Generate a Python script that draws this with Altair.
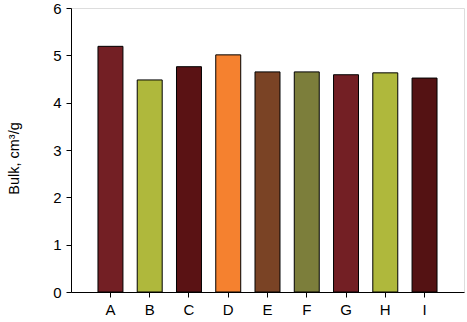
import altair as alt
import pandas as pd

categories = ["A", "B", "C", "D", "E", "F", "G", "H", "I"]
values = [5.19, 4.48, 4.76, 5.01, 4.65, 4.65, 4.59, 4.63, 4.52]
colors = ["#731F24", "#AFB83C", "#5A1214", "#F5812F", "#7A4325",
          "#7C7E3B", "#731F24", "#AFB83C", "#541213"]

df = pd.DataFrame({"cat": categories, "val": values, "col": colors})

font = "Liberation Sans"

chart = alt.Chart(df).mark_bar(stroke="black", strokeWidth=1).encode(
    x=alt.X("cat:N", sort=categories,
            scale=alt.Scale(paddingInner=0.364, paddingOuter=0.687),
            axis=alt.Axis(title=None, labelAngle=0, labelFontSize=15, labelFont=font,
                          labelColor="black", tickColor="black", domainColor="black",
                          tickSize=5, labelPadding=5, grid=False)),
    y=alt.Y("val:Q", scale=alt.Scale(domain=[0, 6], nice=False),
            axis=alt.Axis(title="Bulk, cm³/g", values=[0, 1, 2, 3, 4, 5, 6],
                          labelFontSize=15, labelFont=font, labelColor="black",
                          tickColor="black", domainColor="black", tickSize=5,
                          labelPadding=5, grid=False,
                          titleFont=font, titleFontSize=14.5, titleFontWeight="normal",
                          titleColor="black", titleAngle=270, titleX=-57, titleY=150,
                          titleAlign="center", titleBaseline="middle")),
    color=alt.Color("col:N", scale=None),
).properties(
    width=393, height=284,
    autosize=alt.AutoSizeParams(type="none"),
    padding={"left": 71, "top": 8, "right": 3, "bottom": 30},
).configure_view(stroke="black", strokeWidth=1).configure(background="white")

chart.save("out.html", embed_options={"renderer": "svg", "actions": False})
